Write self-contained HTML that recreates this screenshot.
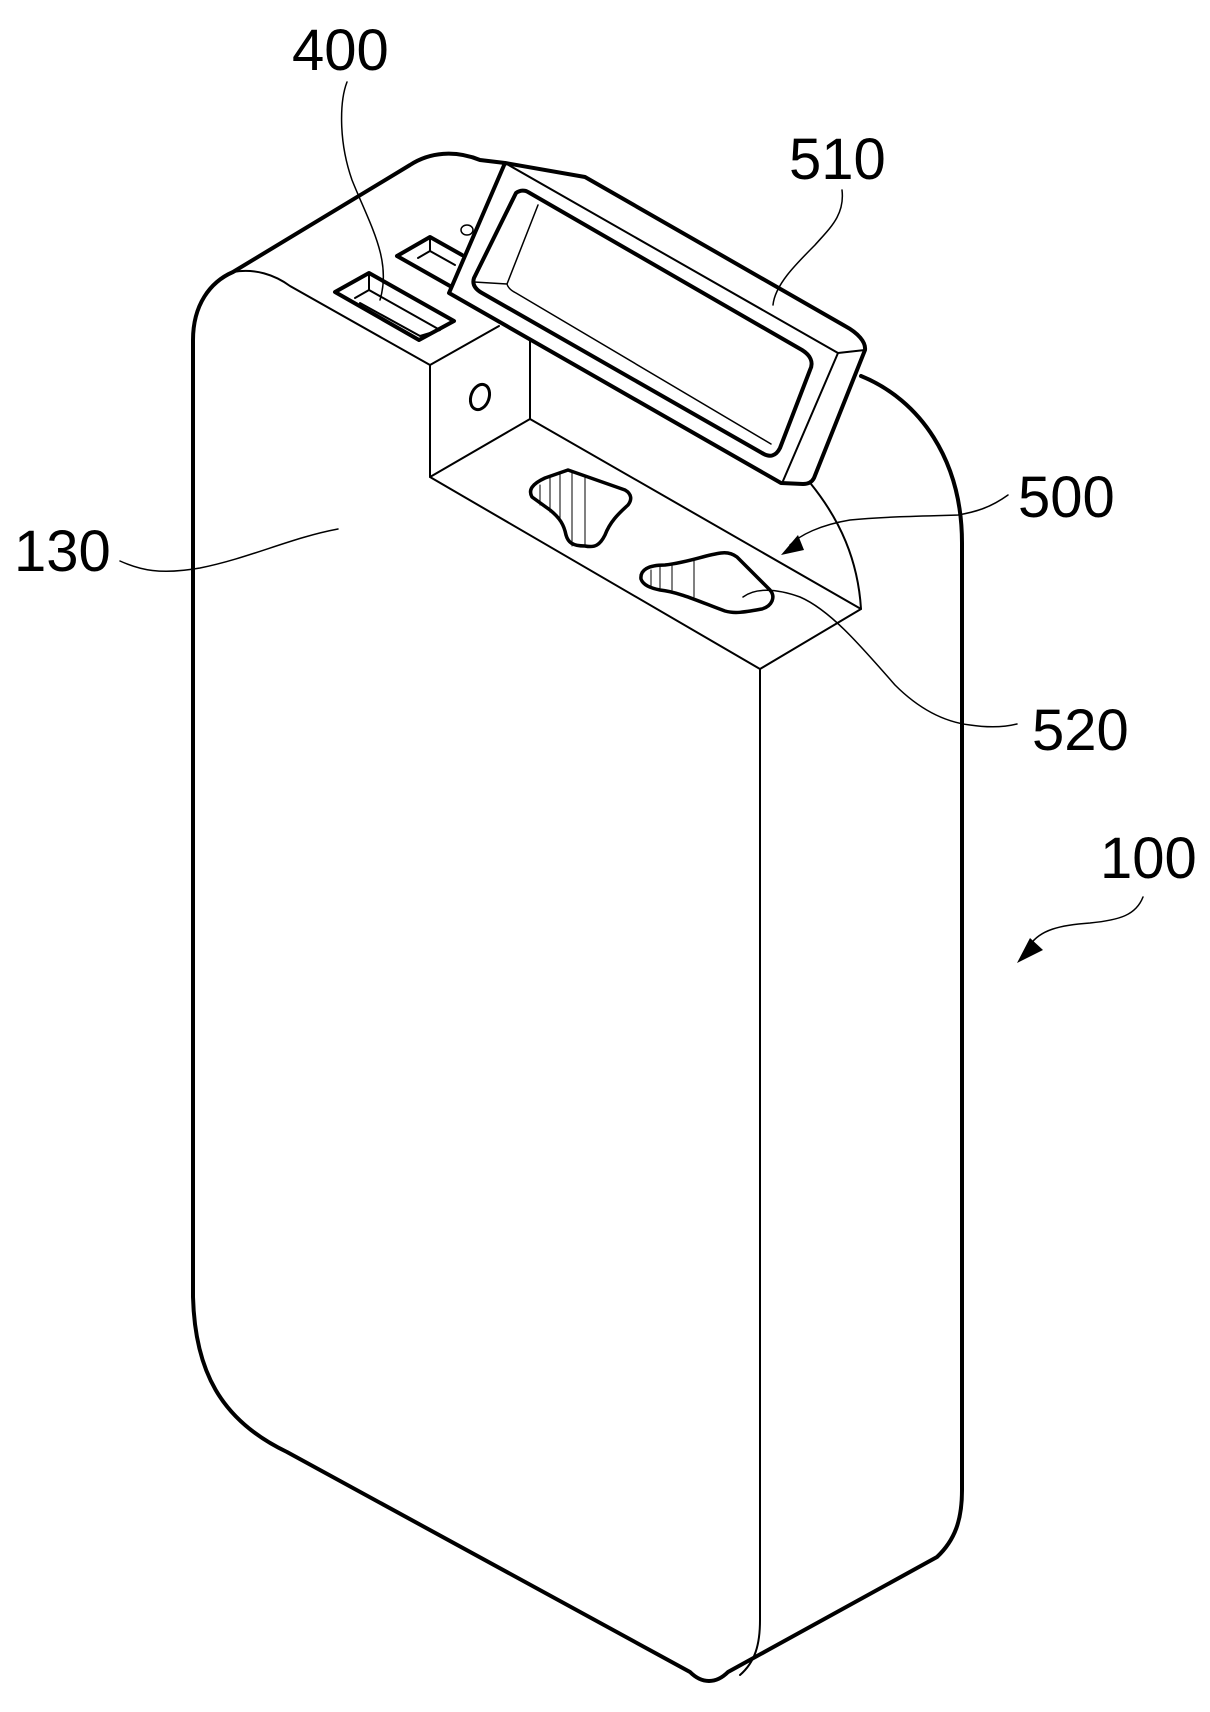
<!DOCTYPE html>
<html><head><meta charset="utf-8"><style>
html,body{margin:0;padding:0;background:#fff;}
svg{display:block;}
text{font-family:"Liberation Sans",sans-serif;font-size:58px;fill:#000;}
</style></head><body>
<svg width="1210" height="1712" viewBox="0 0 1210 1712" xmlns="http://www.w3.org/2000/svg">
<g fill="none" stroke="#000" stroke-linecap="round" stroke-linejoin="round">
<!-- outer silhouette -->
<path stroke-width="4" d="M505,163 L480,160 C455,150 430,152 410,165 L233,272 C210,282 193,305 193,340 L193,1297 C195,1370 220,1420 287,1452 L690,1672 C702,1684 716,1684 728,1672 L937,1557 C955,1540 962,1520 962,1490 L962,543 C962,460 920,400 861,376"/>
<!-- front top edge -->
<path stroke-width="2" d="M233,272 C255,268 275,275 290,286 L430,365"/>
<!-- block -->
<path stroke-width="2" d="M430,365 L430,477 L760,669 L760,1620 C760,1645 755,1662 740,1675"/>
<path stroke-width="2" d="M430,365 L499,326"/>
<path stroke-width="2" d="M530,340 L530,419 L430,477"/>
<path stroke-width="2" d="M530,419 L861,609 L760,669"/>
<path stroke-width="2" d="M811,484 C840,520 858,560 861,609"/>
<!-- slots -->
<path stroke-width="4" d="M335,292 L369,273 L454,321 L419,340 Z"/>
<path stroke-width="2" d="M369,273 L369,290 L355,298 M369,290 L440,330 M360,303 L420,336 L440,330"/>
<path stroke-width="4" d="M397,256 L430,237 L462,255 M397,256 L450,286"/>
<path stroke-width="2" d="M430,237 L430,251 L418,258 M430,251 L455,265"/>
<ellipse cx="467" cy="230" rx="6" ry="5" stroke-width="1.5"/>
<!-- hole -->
<ellipse cx="480" cy="397" rx="9" ry="13" transform="rotate(20 480 397)" stroke-width="3"/>
<!-- handle -->
<path fill="#fff" stroke-width="4" d="M505,163 L585,177 L845,326 C858,333 866,342 865,350 L814,478 C812,482 808,484 803,484 L781,483 L449,293 Z"/>
<path stroke-width="2" d="M505,163 L838,353 L865,350 M838,353 L783,481"/>
<path stroke-width="4" d="M516,193 C520,190 525,190 528,192 L802,350 C810,355 814,362 810,370 L780,448 C776,456 770,458 762,453 L482,293 C475,289 472,284 474,278 Z"/>
<path stroke-width="1.5" d="M538,205 L507,284 L474,282 M507,284 C508,288 512,291 516,293 L771,444"/>
<!-- hand holes -->
<path stroke-width="3.5" d="M532,497 C528,490 532,484 545,478 L568,470 L625,490 C632,494 632,500 628,505 C618,514 610,522 605,535 C600,545 595,548 585,546 C572,546 568,542 566,535 C564,525 560,518 550,510 Z"/>
<path stroke-width="1" d="M540,485 L540,505 M550,478 L550,512 M560,474 L560,520 M572,472 L572,546 M585,476 L585,546"/>
<path stroke-width="3.5" d="M641,579 C640,570 648,565 665,565 C690,562 705,555 721,553 C728,552 733,554 737,557 L770,590 C776,597 772,606 762,609 C745,612 735,614 725,611 C705,604 680,592 660,590 C650,588 643,585 641,579 Z"/>
<path stroke-width="1" d="M651,570 L651,586 M660,566 L660,589 M672,564 L672,590 M694,560 L694,597"/>
<!-- leaders -->
<path stroke-width="1.5" d="M347,82 C340,100 338,140 352,180 C370,225 392,260 380,300"/>
<path stroke-width="1.5" d="M842,190 C845,215 830,228 815,245 C795,265 775,285 773,305"/>
<path stroke-width="1.5" d="M1008,495 C990,508 975,512 958,515 C920,516 880,517 850,520 C820,525 800,535 790,545"/>
<path stroke-width="1.5" d="M743,597 C755,588 775,588 800,597 C830,610 860,645 895,685 C920,710 945,722 970,725 C990,728 1005,727 1017,724"/>
<path stroke-width="1.5" d="M1143,897 C1136,915 1120,920 1090,923 C1060,925 1040,930 1030,945"/>
<path stroke-width="1.5" d="M120,561 C140,570 160,575 200,568 C250,558 290,538 338,529"/>
</g>
<polygon points="781,555 798,535 804,550" fill="#000"/>
<polygon points="1017,963 1030,938 1043,950" fill="#000"/>
<text x="292" y="70">400</text>
<text x="789" y="179">510</text>
<text x="1018" y="517">500</text>
<text x="14" y="571">130</text>
<text x="1032" y="750">520</text>
<text x="1100" y="878">100</text>
</svg>
</body></html>
